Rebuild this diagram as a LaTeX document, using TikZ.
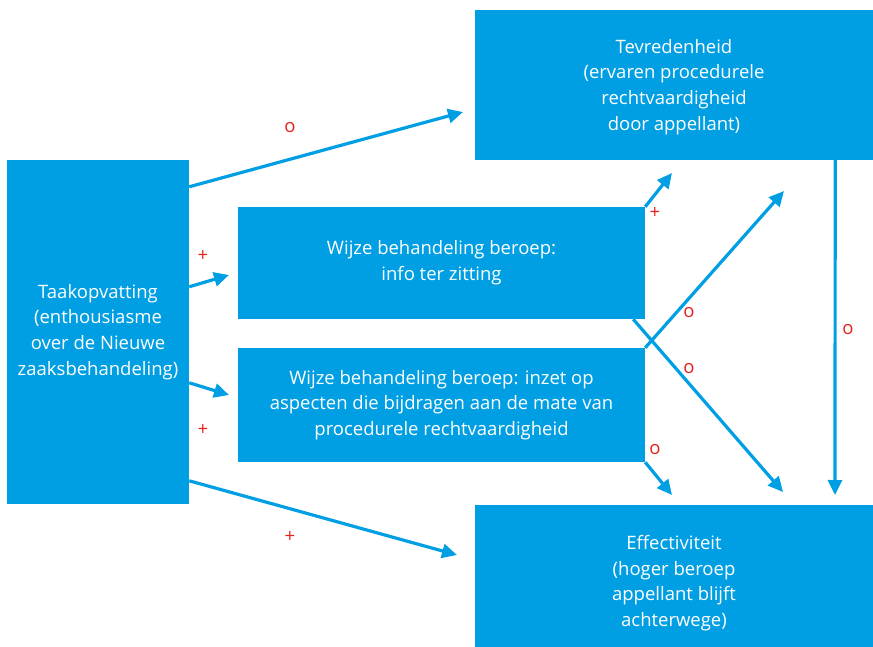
\documentclass[tikz,border=0pt]{standalone}
\usepackage{fontspec}
\setmainfont{Open Sans}
\usetikzlibrary{arrows.meta}
\definecolor{boxblue}{HTML}{009FE3}
\definecolor{labred}{HTML}{E2231A}
\begin{document}
\begin{tikzpicture}[x=1pt,y=-1pt,
  boxnode/.style={fill=boxblue,draw=none,inner sep=0pt,text=white,align=center,font=\fontsize{18.5}{25.7}\selectfont},
  boxtext/.style={inner sep=0pt,text=white,align=center,font=\fontsize{18.5}{25.7}\selectfont},
  conn/.style={draw=boxblue,line width=3.2pt,-{Triangle[length=15pt,width=14pt]}},
  lab/.style={text=labred,font=\fontsize{18.5}{19}\selectfont,inner sep=0pt}]
\useasboundingbox (0,0) rectangle (873,647);
\node[boxnode,minimum width=182pt,minimum height=344pt] (taak) at (98,332) {Taakopvatting\\(enthousiasme\\over de Nieuwe\\zaaksbehandeling)};
\node[boxnode,minimum width=398pt,minimum height=150pt] (tev) at (674,85) {};
\node[boxtext] (tevtxt) at (674,87) {Tevredenheid\\(ervaren procedurele\\rechtvaardigheid\\door appellant)};
\node[boxnode,minimum width=398pt,minimum height=142pt] (eff) at (674,576) {};
\node[boxtext] (efftxt) at (674,583) {Effectiviteit\\(hoger beroep\\appellant blijft\\achterwege)};
\node[boxnode,minimum width=407pt,minimum height=112pt] (w1) at (441.5,263) {Wijze behandeling beroep:\\info ter zitting};
\node[boxnode,minimum width=407pt,minimum height=114pt] (w2) at (441.5,405) {Wijze behandeling beroep: inzet op\\aspecten die bijdragen aan de mate van\\procedurele rechtvaardigheid};
% free ends
\coordinate (t1) at (463,112);
\coordinate (t2) at (229,275);
\coordinate (t3) at (229,395);
\coordinate (t4) at (457,555);
\coordinate (t5) at (672,173);
\coordinate (t6) at (784,191);
\coordinate (t7) at (783,492);
\coordinate (t8) at (672,495);
\coordinate (t9) at (835,495);
\draw[conn] ([yshift=-27pt]taak.north east) -- (t1);
\draw[conn] ([yshift=-127pt]taak.north east) -- (t2);
\draw[conn] ([yshift=-223pt]taak.north east) -- (t3);
\draw[conn] ([yshift=-321pt]taak.north east) -- (t4);
\draw[conn] (w1.north east) -- (t5);
\draw[conn] (w2.north east) -- (t6);
\draw[conn] ([xshift=-12pt]w1.south east) -- (t7);
\draw[conn] (w2.south east) -- (t8);
\draw[conn] ([xshift=-38pt]tev.south east) -- (t9);
% labels
\node[lab] (l1) at (290,128) {o};
\node[lab] (l2) at (203,256) {+};
\node[lab] (l3) at (203,430) {+};
\node[lab] (l4) at (290,537) {+};
\node[lab] (l5) at (655,213) {+};
\node[lab] (l6) at (689,313) {o};
\node[lab] (l7) at (689,369) {o};
\node[lab] (l8) at (655,450) {o};
\node[lab] (l9) at (848,330) {o};
\end{tikzpicture}
\end{document}
